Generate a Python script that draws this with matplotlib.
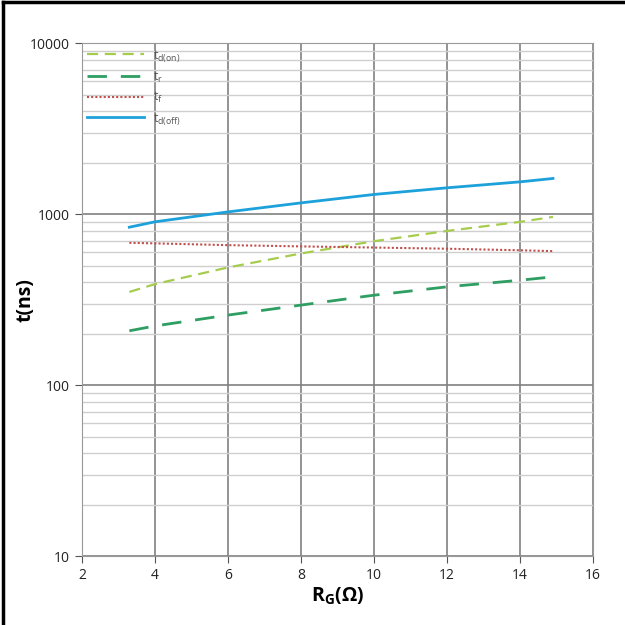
import matplotlib
matplotlib.use("Agg")
import matplotlib.pyplot as plt
from matplotlib.lines import Line2D
from matplotlib.ticker import LogLocator, NullFormatter

plt.rcParams["font.family"] = ["Open Sans", "DejaVu Sans"]
plt.rcParams["mathtext.fontset"] = "custom"
plt.rcParams["mathtext.rm"] = "Open Sans"
plt.rcParams["mathtext.bf"] = "Open Sans:bold"

# gate resistance (ohm)
rg = [3.3, 4, 6, 8, 10, 12, 14, 14.9]

# switching times (ns)
td_on = [351, 390, 488, 589, 695, 798, 902, 964]
t_r = [208, 222, 257, 294, 336, 376, 411, 430]
t_f = [680, 675, 659, 648, 638, 628, 615, 608]
td_off = [839, 902, 1031, 1164, 1304, 1426, 1545, 1617]

LIME = "#A6CC4E"
GREEN = "#2E9E62"
RED = "#C0504D"
BLUE = "#1DA1DA"

fig = plt.figure(figsize=(6.25, 6.25), dpi=100)
ax = fig.add_axes([0.131, 0.110, 0.818, 0.821])

ax.plot(rg, td_on, color=LIME, lw=1.6, ls=(0, (5, 3)), label=r"t$_{\mathregular{d(on)}}$")
ax.plot(rg, t_r, color=GREEN, lw=2.0, ls=(0, (7, 5)), label=r"t$_{\mathregular{r}}$")
ax.plot(rg, t_f, color=RED, lw=1.5, ls=(0, (1, 1)), label=r"t$_{\mathregular{f}}$")
ax.plot(rg, td_off, color=BLUE, lw=2.0, label=r"t$_{\mathregular{d(off)}}$")

ax.set_yscale("log")
ax.set_xlim(2, 16)
ax.set_ylim(10, 10000)
ax.set_xticks(range(2, 17, 2))
ax.set_yticks([10, 100, 1000, 10000])
ax.set_yticklabels(["10", "100", "1000", "10000"])
ax.yaxis.set_minor_locator(LogLocator(base=10, subs=range(2, 10)))
ax.yaxis.set_minor_formatter(NullFormatter())
ax.tick_params(axis="both", which="major", labelsize=10, colors="#555555",
               labelcolor="#222222", length=5)
ax.tick_params(axis="y", which="minor", length=0)

ax.grid(True, which="major", color="#808080", lw=1.2)
ax.grid(True, which="minor", axis="y", color="#cfcfcf", lw=1.0)
ax.set_axisbelow(True)
for s in ax.spines.values():
    s.set_color("#999999")

ax.set_xlabel(r"R$_{\mathregular{G}}$(Ω)", fontsize=14, fontweight="bold", labelpad=2)
ax.set_ylabel("t(ns)", fontsize=14, fontweight="bold")
ax.yaxis.set_label_coords(-0.09, 0.5)

leg = ax.legend(loc="upper left", frameon=False, fontsize=9, handlelength=4.6,
                labelspacing=0.45, borderaxespad=0.0, handletextpad=0.7)
for t in leg.get_texts():
    t.set_color("#555555")

# partial frame around the figure (top and left edges)
fig.add_artist(Line2D([0.004, 0.004], [0, 0.997], transform=fig.transFigure, color="black", lw=2.5))
fig.add_artist(Line2D([0.004, 1.0], [0.997, 0.997], transform=fig.transFigure, color="black", lw=2.5))

fig.savefig("out.png", dpi=100)
